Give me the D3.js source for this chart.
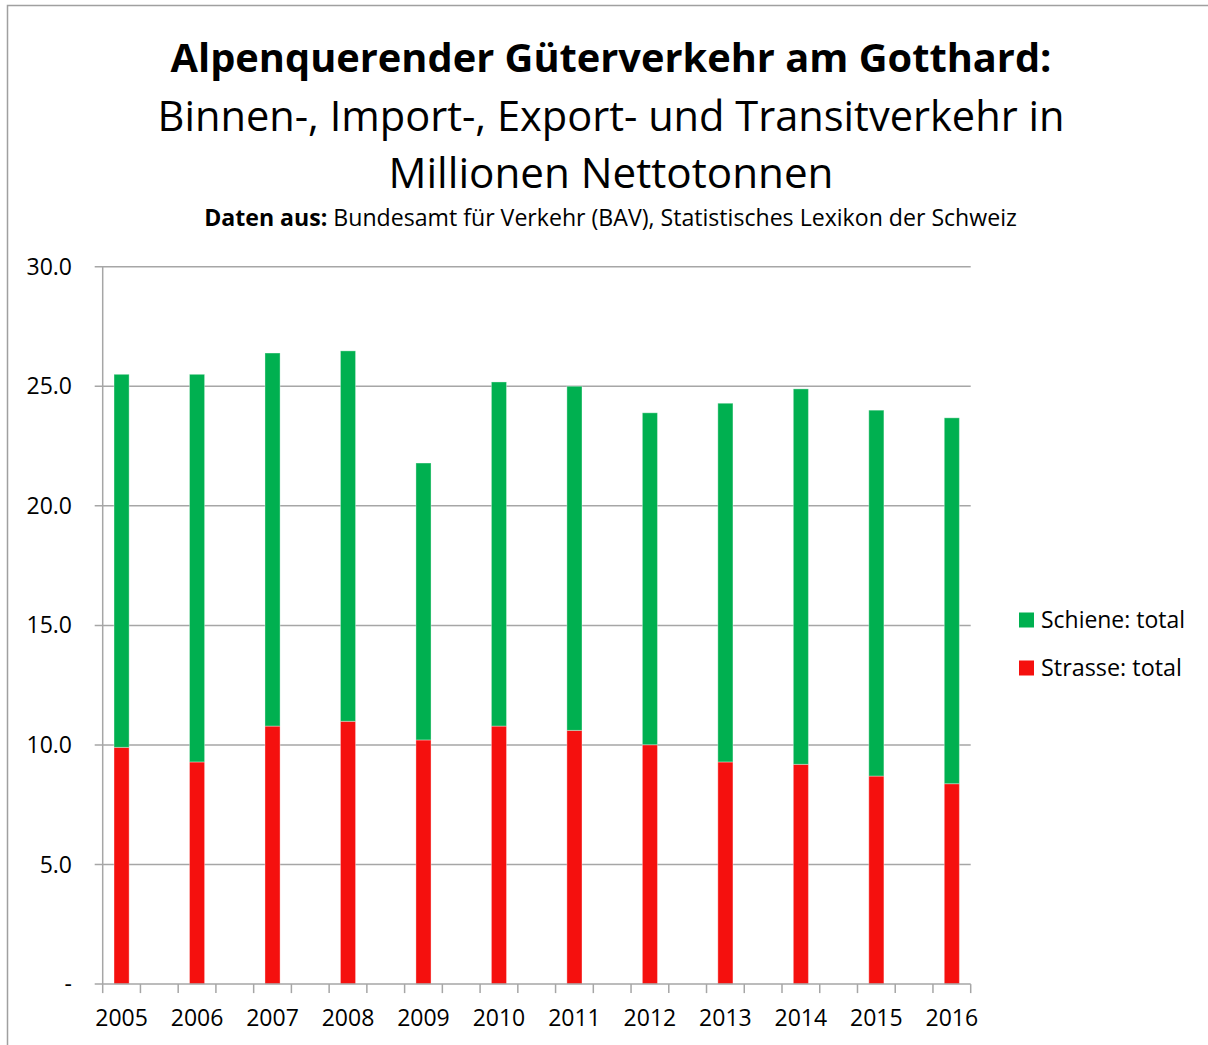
<!DOCTYPE html>
<html>
<head>
<meta charset="utf-8">
<script src="https://cdn.jsdelivr.net/npm/d3@7"></script>
<style>
  html, body { margin: 0; padding: 0; background: #fff; }
  svg { display: block; font-family: "Open Sans", sans-serif; }
</style>
</head>
<body>
<svg id="chart" width="1208" height="1045"></svg>
<script>
// ---- data ----
const years = ["2005","2006","2007","2008","2009","2010","2011","2012","2013","2014","2015","2016"];
const strasse = [9.90, 9.29, 10.79, 10.99, 10.21, 10.79, 10.61, 10.01, 9.29, 9.19, 8.70, 8.38];
const schiene = [15.60, 16.21, 15.60, 15.49, 11.58, 14.39, 14.39, 13.88, 15.00, 15.70, 15.30, 15.30];
const yTicks = [0, 5, 10, 15, 20, 25, 30];
const seriesNames = ["Schiene: total", "Strasse: total"];
const colors = { schiene: "#00b050", strasse: "#f5100e" };

// x categories: each year followed by an empty slot (as in the original sheet)
const slots = [];
years.forEach((yr, i) => { slots.push(yr); if (i < years.length - 1) slots.push(""); });

const svg = d3.select("#chart");

// frame
svg.append("rect").attr("x", 7.5).attr("y", 5.5).attr("width", 1400).attr("height", 1200)
  .attr("fill", "none").attr("stroke", "#a0a0a0").attr("stroke-width", 1.5);

const pL = 102.7, pR = 970.7, pT = 266.7, pB = 984.1;

const x = d3.scaleBand().domain(d3.range(slots.length)).range([pL, pR]).paddingInner(0).paddingOuter(0);
const y = d3.scaleLinear().domain([0, 30]).range([pB, pT]);
const barW = x.bandwidth() * 0.4;

// gridlines
svg.append("g").selectAll("line").data(yTicks.filter(d => d > 0)).join("line")
  .attr("x1", pL - 8).attr("x2", pR)
  .attr("y1", d => y(d)).attr("y2", d => y(d))
  .attr("stroke", "#a6a6a6").attr("stroke-width", 1.5);

// y-axis line
svg.append("line").attr("x1", pL).attr("x2", pL).attr("y1", pT).attr("y2", pB)
  .attr("stroke", "#a6a6a6").attr("stroke-width", 1.5);

// y labels
svg.append("g").selectAll("text").data(yTicks).join("text")
  .attr("x", 72).attr("y", d => y(d)).attr("dy", "0.35em")
  .attr("text-anchor", "end").attr("font-size", 23).attr("fill", "#000")
  .text(d => d === 0 ? "-" : d3.format(".1f")(d));

// bars
const yearIdx = years.map(yr => slots.indexOf(yr));
const barG = svg.append("g");
years.forEach((yr, i) => {
  const cx = x(yearIdx[i]) + x.bandwidth() / 2;
  barG.append("rect")
    .attr("x", cx - barW / 2).attr("width", barW)
    .attr("y", y(strasse[i])).attr("height", y(0) - y(strasse[i]))
    .attr("fill", colors.strasse).attr("stroke", "#ffffff").attr("stroke-opacity", 0.35).attr("stroke-width", 1);
  barG.append("rect")
    .attr("x", cx - barW / 2).attr("width", barW)
    .attr("y", y(strasse[i] + schiene[i])).attr("height", y(strasse[i]) - y(strasse[i] + schiene[i]))
    .attr("fill", colors.schiene).attr("stroke", "#ffffff").attr("stroke-opacity", 0.35).attr("stroke-width", 1);
});

// x axis line
svg.append("line").attr("x1", pL - 8).attr("x2", pR).attr("y1", pB).attr("y2", pB)
  .attr("stroke", "#a6a6a6").attr("stroke-width", 1.5);
// x ticks at slot boundaries
const bounds = d3.range(slots.length).map(i => x(i)).concat([pR]);
svg.append("g").selectAll("line").data(bounds).join("line")
  .attr("x1", d => d).attr("x2", d => d).attr("y1", pB).attr("y2", pB + 9)
  .attr("stroke", "#a6a6a6").attr("stroke-width", 1.5);
// x labels
svg.append("g").selectAll("text").data(years).join("text")
  .attr("x", (d, i) => x(yearIdx[i]) + x.bandwidth() / 2)
  .attr("y", 1018).attr("dy", "0.35em")
  .attr("text-anchor", "middle").attr("font-size", 23).attr("fill", "#000")
  .text(d => d);

// titles
function fit(sel, target) {
  const fs = parseFloat(sel.attr("font-size"));
  const w = sel.node().getComputedTextLength();
  sel.attr("font-size", (fs * target / w).toFixed(2));
}
const cxT = 611;
const t1 = svg.append("text").attr("x", cxT).attr("y", 72).attr("text-anchor", "middle")
  .attr("font-size", 40).attr("font-weight", "bold").text("Alpenquerender Güterverkehr am Gotthard:");
fit(t1, 881);
const t2 = svg.append("text").attr("x", cxT).attr("y", 131).attr("text-anchor", "middle")
  .attr("font-size", 40).text("Binnen-, Import-, Export- und Transitverkehr in");
fit(t2, 907);
const t3 = svg.append("text").attr("x", cxT).attr("y", 188).attr("text-anchor", "middle")
  .attr("font-size", 40).text("Millionen Nettotonnen");
fit(t3, 445);
const t4 = svg.append("text").attr("x", 610.5).attr("y", 226).attr("text-anchor", "middle")
  .attr("font-size", 20);
t4.append("tspan").attr("font-weight", "bold").text("Daten aus:");
t4.append("tspan").text(" Bundesamt für Verkehr (BAV), Statistisches Lexikon der Schweiz");
fit(t4, 813);

// legend
const legend = [
  { name: seriesNames[0], color: colors.schiene, cy: 620, w: 144 },
  { name: seriesNames[1], color: colors.strasse, cy: 668, w: 141 }
];
const lg = svg.append("g").selectAll("g").data(legend).join("g");
lg.append("rect").attr("x", 1019).attr("y", d => d.cy - 7.5).attr("width", 15).attr("height", 15)
  .attr("fill", d => d.color);
lg.append("text").attr("x", 1041).attr("y", d => d.cy).attr("dy", "0.35em")
  .attr("font-size", 22).attr("fill", "#000").text(d => d.name)
  .each(function(d) { fit(d3.select(this), d.w); });
</script>
</body>
</html>
